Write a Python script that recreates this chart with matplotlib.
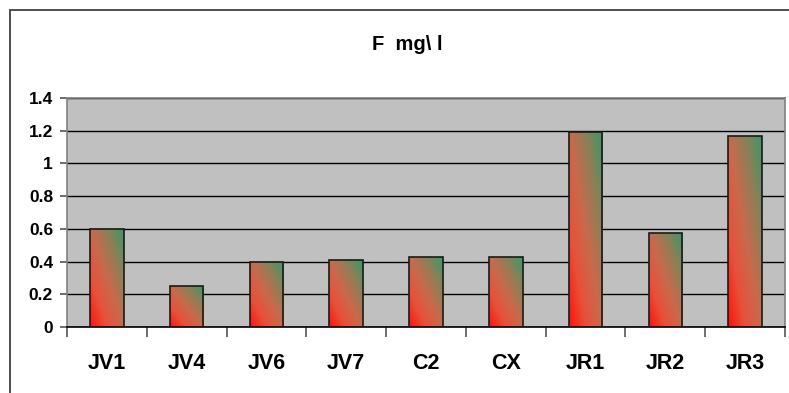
import numpy as np
import matplotlib.pyplot as plt
from matplotlib.patches import Rectangle
from matplotlib.colors import LinearSegmentedColormap

categories = ["JV1", "JV4", "JV6", "JV7", "C2", "CX", "JR1", "JR2", "JR3"]
values = [0.6, 0.25, 0.4, 0.41, 0.43, 0.43, 1.19, 0.575, 1.17]
title = "F  mg\\ l"

plt.rcParams['font.family'] = ['Liberation Sans', 'DejaVu Sans']

fig = plt.figure(figsize=(7.89, 3.93), dpi=100)
ax = fig.add_axes([67 / 789, 66 / 393, 718 / 789, 229 / 393])
ax.set_facecolor("#c0c0c0")

# outer chart frame (cut off at right and bottom like the original)
fig.patches.append(Rectangle((10 / 789, -0.1), 1.2, 1 - 10 / 393 + 0.1,
                             transform=fig.transFigure, fill=False,
                             edgecolor="#404040", linewidth=1.3, zorder=0))

x = np.arange(len(categories))
bars = ax.bar(x, values, width=0.42, facecolor="none", edgecolor="#1a1a1a",
              linewidth=1.2, zorder=3)

# diagonal red -> green gradient inside each bar
cmap = LinearSegmentedColormap.from_list(
    "rg", ["#ff1208", "#e8503a", "#c86a4c", "#8a8058", "#3a9868"])
u, v = np.meshgrid(np.linspace(0, 1, 60), np.linspace(0, 1, 200))
t = (u + v) / 2
for b in bars:
    x0, w, h = b.get_x(), b.get_width(), b.get_height()
    im = ax.imshow(t, cmap=cmap, vmin=0, vmax=1, extent=[x0, x0 + w, 0, h],
                   origin="lower", aspect="auto", zorder=2,
                   interpolation="bilinear")
    im.set_clip_path(b)

ax.set_xlim(-0.5, len(categories) - 0.5)
ax.set_ylim(0, 1.4)
ax.set_yticks(np.arange(0, 1.41, 0.2))
ax.set_yticklabels(["0", "0.2", "0.4", "0.6", "0.8", "1", "1.2", "1.4"],
                   fontsize=12.5, fontweight="bold")
ax.yaxis.grid(True, color="black", linewidth=1.0, zorder=1)
ax.set_axisbelow(True)

ax.set_xticks(x)
ax.set_xticklabels(categories, fontsize=15.5, fontweight="bold")
ax.tick_params(axis="x", length=0, pad=19)
ax.set_xticks(np.arange(-0.5, len(categories), 1), minor=True)
ax.tick_params(axis="x", which="minor", length=7, color="#555555", width=1.2)
ax.tick_params(axis="y", length=5, color="#555555", width=1.2, pad=5)

for s in ["top", "right", "left"]:
    ax.spines[s].set_color("#808080")
    ax.spines[s].set_linewidth(1.2)
ax.spines["bottom"].set_color("black")
ax.spines["bottom"].set_linewidth(1.2)

fig.text(407 / 789, 1 - 50 / 393, title, ha="center", va="baseline",
         fontsize=14.5, fontweight="bold")

fig.savefig("out.png", dpi=100)
